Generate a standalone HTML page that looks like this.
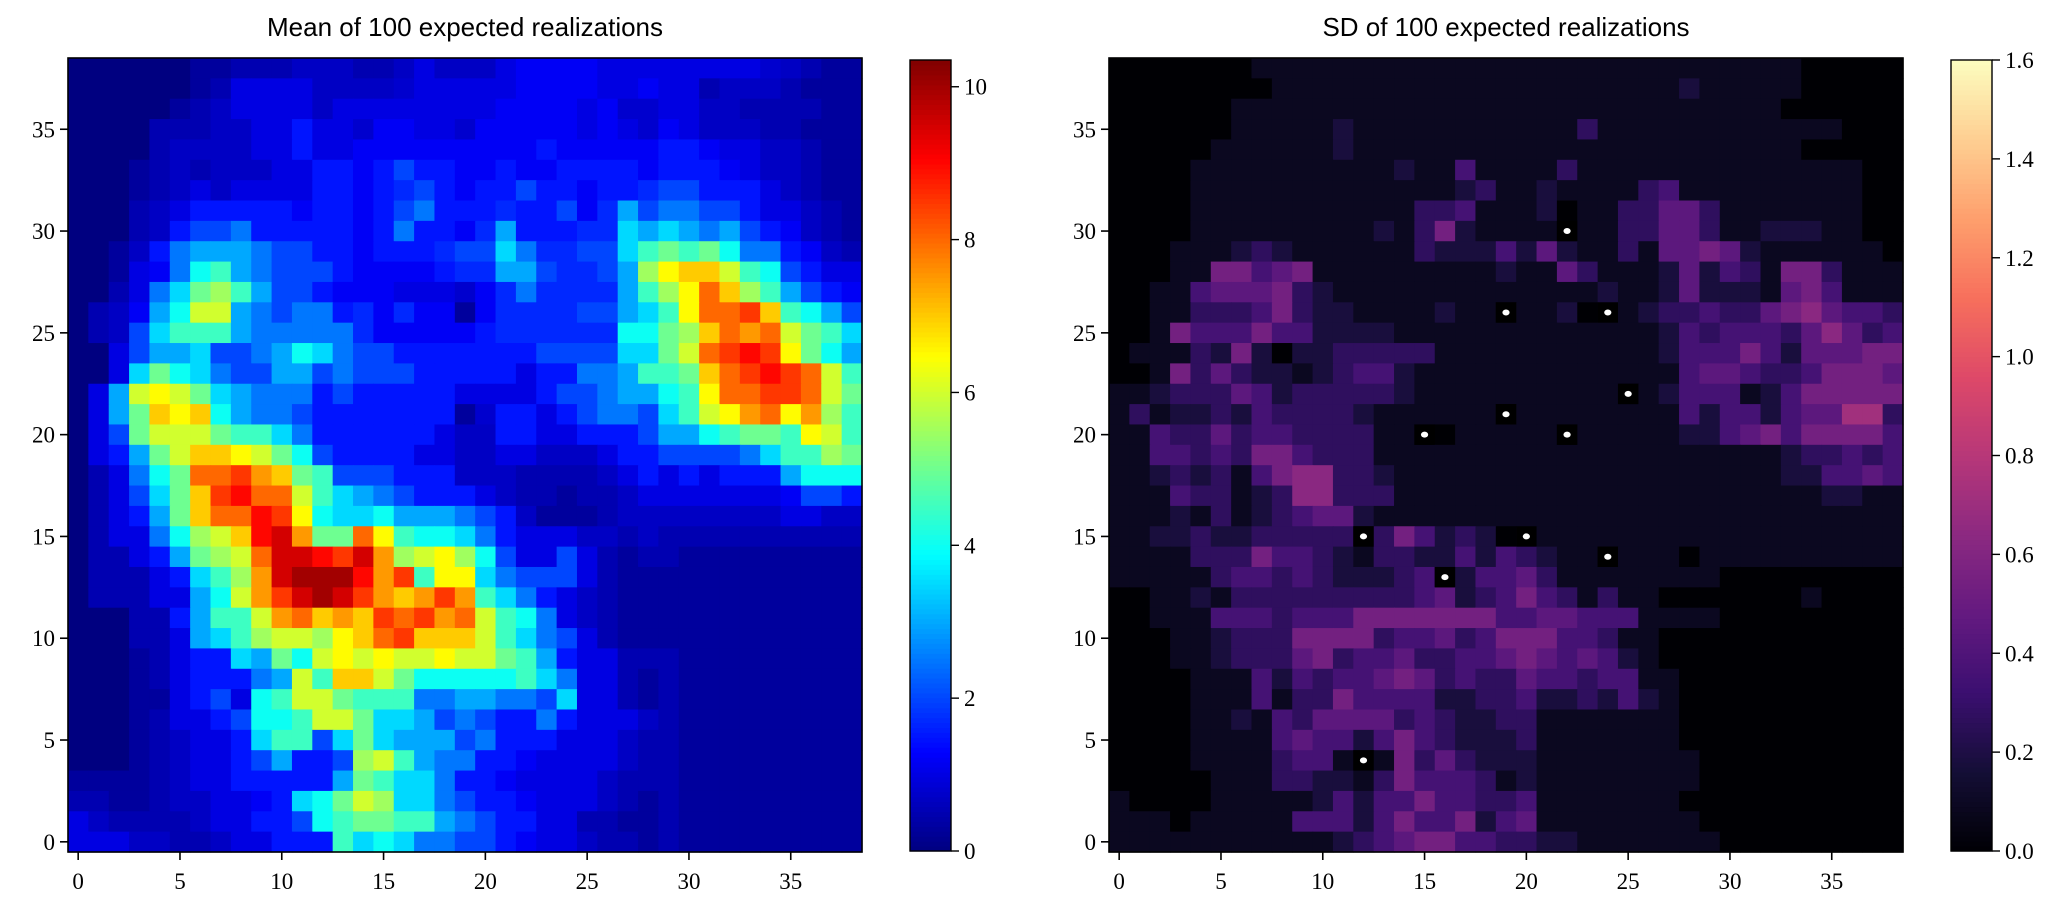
<!DOCTYPE html>
<html><head><meta charset="utf-8"><style>
html,body{margin:0;padding:0;background:#fff;}
svg{display:block;}
text{font-family:"Liberation Serif",serif;fill:#000;}
.ttl{font-family:"Liberation Sans",sans-serif;font-size:26px;}
.tk{font-size:23px;}
</style></head><body>
<svg id="fig" width="2067" height="913" viewBox="0 0 2067 913"></svg>
<script>
// ---- data (rows listed from y=38 at top down to y=0) ----
const gridSize = 39;
const meanRows = [
"0 0 0 0 0 0 .3 .3 .5 .5 .5 .7 .7 .7 .5 .5 .7 1 .7 .7 .7 1 1.2 1.2 1.2 1.2 1 1 1 1 1 1 1 1 .8 .7 .5 .3 .3",
"0 0 0 0 0 0 .3 .5 1 1 1 1 .7 .7 .7 .7 .8 1 1 1 1 1 1.2 1.2 1.2 1.2 1 1 1.2 1 1 .5 .7 .7 .7 .5 .3 .3 .3",
"0 0 0 0 0 .3 .5 .7 1 1 1 1 .7 1 1 1 1 1 1 1 1 1.2 1.2 1.2 1.2 1 1.2 .8 .8 1 1 .7 .7 .5 .5 .5 .5 .3 .3",
"0 0 0 0 .5 .5 .5 .7 .7 1 1 1.5 1 1 .8 1.2 1.2 1 1 .8 1.2 1.2 1.2 1.2 1.2 1 1.2 1 .8 1.2 1 .7 .7 .7 .5 .5 .3 .3 .3",
"0 0 0 0 .5 .7 .7 .7 .7 1 1 1.5 1 1 1.2 1.2 1.2 1.2 1.2 1.2 1.2 1.2 1.2 1.5 1.2 1.2 1.2 1.2 1.2 1.5 1.5 1.2 1 1 .7 .7 .5 .3 .3",
"0 0 0 .3 .5 .7 .5 .7 .7 .7 1 1 1.5 1.5 1.2 1.5 2 1.5 1.5 1.2 1.2 1.5 1.2 1.2 1.5 1.5 1.5 1.5 1.2 1.5 1.5 1.5 1.2 1 .7 .7 .5 .3 .3",
"0 0 0 .3 .5 .7 1 .7 1 1 1 1 1.5 1.5 1.2 1.5 1.7 2 1.5 1.2 1.5 1.5 2 1.5 1.5 1.2 1.5 1.5 1.7 2 2 1.5 1.5 1.5 1 .7 .5 .3 .3",
"0 0 0 .5 .7 1 1.5 1.5 1.5 1.5 1.5 1.2 1.5 1.5 1.2 1.5 2 2.5 1.5 1.5 1.5 1.7 1.5 1.5 2 1.2 1.7 3 2 2.5 2.5 2 2 1.5 1 1 .7 .5 .3",
"0 0 0 .5 .7 1.5 2 2 2.5 1.5 1.5 1.5 1.5 1.5 1.2 1.5 2.5 1.5 1.5 1.2 1.7 3 1.5 1.5 1.5 1.7 1.7 3.5 3 3.5 3 2.5 3 2 1.5 1.2 .7 .5 .3",
"0 0 .3 .7 1.5 2.5 3 3 3 2.5 2 2 1.5 1.5 1.2 1.5 1.5 1.5 1.7 2 2 3.5 2.5 1.7 1.7 2 2 3.5 4.5 5 4.5 5 4 2.5 2.5 1.5 1.2 .7 .5",
"0 0 .3 1 1.2 2.5 4 4.5 3 2.5 2 2 2 1.5 1.2 1.2 1.2 1.2 1.5 1.7 1.7 3 3 2 1.7 1.7 2 3 5.5 6.5 7 7 6 4.5 4 2 1.5 1 1",
"0 0 .5 1 2.5 3.5 5 5.5 4.5 3 2 2 1.5 1.2 1.2 1.2 1 1 1 .8 1.2 1.7 2.5 1.7 1.7 1.7 1.7 3 4.5 5.5 6.5 8 7 5.5 4.5 3 2 1.5 1.2",
"0 .5 .7 1.2 3 4 6 6 3 2.5 2 2.5 2.5 1.5 1.7 1.2 1.7 1.2 1.2 .3 1.2 1.7 1.7 1.7 1.7 2 2 3 3.5 4.5 6.5 8 8 8.5 7 4.5 4 3 2",
"0 .5 .7 2 3.5 4.5 4.5 4.5 3 2.5 2.5 2.5 2.5 2.5 1.7 1.2 1.2 1.2 1.2 1.2 1.5 1.7 1.7 1.7 1.7 1.7 1.7 4 4 5 5.5 7 8 7.5 8 6 5 4.5 3.5",
"0 0 1 2 3 3 3.5 2 2 2.5 3 4 3.5 2.5 2 2 1.5 1.5 1.5 1.5 1.5 1.5 1.5 2 2 2 2 3.5 3.5 5 6 8 8.5 9 8.5 6.5 5 4 3",
"0 0 1 3.5 5 4 3.5 2.5 2 2 3 3 2 2.5 2 2 2 1.5 1.5 1.5 1.5 1.5 1 1.5 1.5 2.5 2.5 3 4.5 4.5 5 7 8 8.5 9 8.5 8 6 4.5",
"0 1 3 6 6.5 6 5 3.5 3 2.5 2.5 2.5 1.5 2 1.5 1.5 1.5 1.5 1.5 1 1 1 1 1.5 2 2 2.5 3 3 4 4.5 6.5 8 8 8.5 8.5 8 6 5",
"0 1 3 5 7 6.5 7 4 3 2.5 2.5 2 1.5 1.5 1.5 1.5 1.5 1.5 1.5 .3 .8 1.5 1.5 1 1.5 2 2.5 2.5 2 3.5 4.5 6 6.5 7.5 8 6.5 7.5 5.5 4.5",
"0 1 2 5 6 6 6 5 4.5 4.5 3.5 2.5 1.5 1.5 1.5 1.5 1.5 1.5 1 .7 .7 1.5 1.5 1 1 1.5 1.5 1.5 2 3 3 4 4.5 5 5 4.5 6.5 6 4.5",
"0 1 1.5 3 5 6 7 7 6.5 6 5 4 2 1.5 1.5 1.5 1.5 1 1 .7 .7 1 1 .7 .7 .7 1 1.5 1.5 2 2 2 2 2.5 3.5 4.5 4.5 5.5 5",
"0 .5 1 2.5 4 5 8 8 8.5 7.5 7 5 4.5 2 2 2 1.5 1.5 1.5 .7 .7 .7 .5 .5 .5 .5 .7 1 1.5 1 1.5 1 1.5 1.5 1.5 3 4 4 4",
"0 .5 1 2 3.5 5 7 8.5 9 8 8 6 4.5 3.5 3 2.5 2 1.5 1.5 1.5 1 .7 .5 .5 .3 .5 .5 .7 1 1 1 1 1 1 1 1.2 2 2 1.5",
"0 .5 1 1.5 3 5 7 8 8 9 8.5 6.5 4 3.5 3.5 4 3 3 3 2.5 2 1.5 .7 .3 .3 .3 .5 .7 .7 .7 .7 .7 .7 .7 .7 1 1 .7 .7",
"0 .5 1 1 2.5 4 5.5 6 7 9 9.5 7.5 5 5 8 6.5 4.5 4 4 3.5 2.5 1.5 1 1 1 .7 .7 .5 .7 .5 .5 .5 .5 .5 .5 .5 .5 .5 .5",
"0 .5 .5 1 1.5 3 5 5.5 6 8 9.5 9.5 9 8.5 9.5 7.5 5.5 6 6.5 5.5 4 2 1 1 2 1 .5 .3 .5 .5 .3 .3 .3 .3 .3 .3 .3 .3 .3",
"0 .5 .5 .5 1 1.5 3.5 4.5 5.5 7.5 9.5 10 10 10 9 7.5 8.5 4.5 6.5 6.5 3.5 2.5 2 2 2 1 .5 .3 .3 .3 .3 .3 .3 .3 .3 .3 .3 .3 .3",
"0 .5 .5 .5 1 1 3 4 6 7.5 8.5 9.5 10 9.5 8.5 7.5 7 7.5 8.5 7.5 4.5 3.5 2.5 1.5 1 .7 .5 .3 .3 .3 .3 .3 .3 .3 .3 .3 .3 .3 .3",
"0 0 0 .5 .5 1.5 3 4.5 4.5 6 7.5 8 7 7.5 7 8.5 8 8.5 7.5 8 6 4.5 4 2.5 1 .7 .5 .3 .3 .3 .3 .3 .3 .3 .3 .3 .3 .3 .3",
"0 0 0 .5 .5 1 3 3.5 4.5 5.5 6 6 5.5 6.5 7 8 8.5 7 7 7 6 4.5 3.5 2.5 2 1 .5 .3 .3 .3 .3 .3 .3 .3 .3 .3 .3 .3 .3",
"0 0 0 .3 .5 1 1.5 1.5 3.5 3 5 4 6 6.5 6 6.5 6 6 6.5 6 6 5 4.5 3 1.5 1 1 .5 .5 .5 .3 .3 .3 .3 .3 .3 .3 .3 .3",
"0 0 0 .3 .5 1 1.5 1.5 1.5 2.5 3 6 4.5 7 7 6 5 4 4 4 4 4 4.5 3.5 2.5 1 1 .5 .3 .5 .3 .3 .3 .3 .3 .3 .3 .3 .3",
"0 0 0 .3 .3 1 1.5 2 1 4 4.5 6 6 5 4.5 4.5 4.5 2.5 2.5 3 3 2.5 2.5 2 3.5 1 1 .5 .3 .5 .3 .3 .3 .3 .3 .3 .3 .3 .3",
"0 0 0 .3 .5 1 1 1.5 2 4 4 4.5 6 6 5 3.5 3.5 3 2 2.5 2 1.5 1.5 2.5 1.5 1 1 1 .7 .5 .3 .3 .3 .3 .3 .3 .3 .3 .3",
"0 0 0 .3 .5 .7 1 1 1.5 3.5 4.5 4.5 2 3.5 5 3.5 3 3 3 2 2.5 1.5 1.5 1.5 1 1 1 .7 .5 .5 .3 .3 .3 .3 .3 .3 .3 .3 .3",
"0 0 0 .3 .5 .7 1 1 1.5 2 3 1.5 1.5 2 5.5 6 4.5 3 2.5 2.5 1.5 1.5 1.2 1 1 1 1 .7 .5 .5 .3 .3 .3 .3 .3 .3 .3 .3 .3",
".3 .3 .3 .3 .5 .7 1 1 1.5 1.5 1.5 1.5 1.5 3 5 4.5 3.5 3.5 2.5 1.5 1.5 1.2 1 1 1 1 .7 .5 .5 .5 .3 .3 .3 .3 .3 .3 .3 .3 .3",
".5 .5 .3 .3 .5 .7 .7 1 1 1.2 1.5 3.5 4 5 6 5.5 3.5 3.5 2.5 2 1.5 1.5 1.2 1 1 1 .7 .5 .3 .5 .3 .3 .3 .3 .3 .3 .3 .3 .3",
"1 .7 .5 .5 .5 .5 .7 1 1 1.5 1.5 2 4 4.5 5 5 4.5 4.5 3 2.5 2 1.5 1.5 1 1 .5 .5 .3 .3 .5 .3 .3 .3 .3 .3 .3 .3 .3 .3",
"1 1 1 .7 .7 .5 .5 .7 1 1 1.5 1.5 1.5 4.5 3.5 4 3.5 2.5 2.5 2 2 1.5 1.2 1 1 .7 .5 .5 .3 .5 .3 .3 .3 .3 .3 .3 .3 .3 .3"
];
// SD levels (x0.09), rows from y=38 down to y=0
const sdRows = [
"000000011111111111111111111111111100000",
"000000001111111111111111111121111100000",
"000000111111111111111111111111111000000",
"000000111112111111111113111111111111000",
"000001111112111111111111111111111100000",
"000011111111112114111131111111111111100",
"000011111111111112311211113411111111100",
"000011111111111334111201133553111111100",
"000011111111121362111101133553112221100",
"000111232111111322242521131556521111110",
"000116645611111111121153111252431663111",
"001145556321111111111111211252221564111",
"001133346322111121101120112334335675443",
"001644464422221111111111111243444357534",
"011132620223333311111111111244464255566",
"001635322123442111111111111145543346665",
"112333542333332111111111101244412466666",
"131223243333211111101111111142442455883",
"114335344333311001111101111122456466664",
"114434366433311111111111111111111233434",
"112323146773321111111111111111111224454",
"111433123773331111111111111111111112211",
"111213123455211111111111111111111111111",
"112232233333036423201111111111111111111",
"111133364432133224243211011101111111111",
"111113443432223402445311111111000000000",
"001121333333333452346431311000000010000",
"001114443444666666644554441111000000000",
"000112333666634453466644311000000000000",
"000112333563445334456545421000000000000",
"000011142434456534335443441100000000000",
"000011141336444422334223242100000000000",
"000011214355553432233111111100000000000",
"000011114544246432223111111100000000000",
"000011113441016353222111111110000000000",
"000001113322136444312111111110000000000",
"100001111124244644334111111100000000000",
"111011111444246446245111111110000000000",
"111111111112345664433221111111000000000"
];
const markerX = [22,19,24,25,19,15,22,12,20,24,16,12];
const markerY = [30,26,26,22,21,20,20,15,15,14,13,4];
const xTickLabels = ["0","5","10","15","20","25","30","35"];
const yTickLabels = ["0","5","10","15","20","25","30","35"];
const meanCbTicks = ["0","2","4","6","8","10"];
const sdCbTicks = ["0.0","0.2","0.4","0.6","0.8","1.0","1.2","1.4","1.6"];
const meanMax = 10.35, sdMax = 1.6, sdStep = 0.09;

const NS = "http://www.w3.org/2000/svg";
const svg = document.getElementById('fig');
function mk(tag, attrs, parent){const e=document.createElementNS(NS,tag);for(const k in attrs)e.setAttribute(k,attrs[k]);(parent||svg).appendChild(e);return e;}

function jet(t){t=Math.max(0,Math.min(1,t));
 const f=(x)=>Math.max(0,Math.min(1,1.5-Math.abs(4*t-x)));
 return `rgb(${Math.round(255*f(3))},${Math.round(255*f(2))},${Math.round(255*f(1))})`;}
const magStops=[[0,0,0,4],[.1,20,14,54],[.2,59,15,112],[.3,100,26,128],[.4,140,41,129],[.5,183,55,121],[.6,222,73,104],[.7,247,112,92],[.8,254,159,109],[.9,254,207,146],[1,252,253,191]];
function magma(t){t=Math.max(0,Math.min(1,t));for(let i=1;i<magStops.length;i++){if(t<=magStops[i][0]){const a=magStops[i-1],b=magStops[i];const u=(t-a[0])/(b[0]-a[0]);return `rgb(${Math.round(a[1]+u*(b[1]-a[1]))},${Math.round(a[2]+u*(b[2]-a[2]))},${Math.round(a[3]+u*(b[3]-a[3]))})`;}}return 'rgb(252,253,191)';}

const cell = 794/gridSize, top0 = 58, H = 794;
function panel(x0, rows, parse, cmap, vmax, title, cbX, cbTicks, cbMax, nameP){
  const g = mk('g',{});
  
  
  const xs=(v)=>x0+(v+0.5)*cell, ys=(v)=>top0+(gridSize-0.5-v)*cell;
  rows.forEach((row,ri)=>{
    const vals=parse(row); const yv=gridSize-1-ri;
    for(let c=0;c<gridSize;c++){
      const v=vals[c]!==undefined?vals[c]:0;
      const r=mk('rect',{x:(xs(c)-cell/2).toFixed(2),y:(ys(yv)-cell/2).toFixed(2),width:(cell+0.6).toFixed(2),height:(cell+0.6).toFixed(2),fill:cmap(v/vmax)},g);
      
      
    }
  });
  const fr=mk('rect',{x:x0,y:top0,width:794,height:H,fill:'none',stroke:'#000','stroke-width':1.6});
  
  
  xTickLabels.forEach(l=>{const v=+l;
    mk('line',{x1:xs(v),x2:xs(v),y1:top0+H,y2:top0+H+8,stroke:'#000','stroke-width':1.6});
    const t=mk('text',{x:xs(v),y:top0+H+37,'text-anchor':'middle',class:'tk'});t.textContent=l;
    
    });
  yTickLabels.forEach(l=>{const v=+l;
    mk('line',{x1:x0-8,x2:x0,y1:ys(v),y2:ys(v),stroke:'#000','stroke-width':1.6});
    const t=mk('text',{x:x0-13,y:ys(v)+8,'text-anchor':'end',class:'tk'});t.textContent=l;
    
    });
  const tt=mk('text',{x:x0+397,y:36,'text-anchor':'middle',class:'ttl'});tt.textContent=title;
  
  
  // colorbar
  const cbTop=60, cbBot=851, cbW=41;
  const cg=mk('g',{});
  
  
  const n=160;
  for(let i=0;i<n;i++){const y=cbBot-(i+1)*(cbBot-cbTop)/n;
    mk('rect',{x:cbX,y:y.toFixed(2),width:cbW,height:((cbBot-cbTop)/n+0.6).toFixed(2),fill:cmap((i+0.5)/n)},cg);}
  mk('rect',{x:cbX,y:cbTop,width:cbW,height:cbBot-cbTop,fill:'none',stroke:'#000','stroke-width':1.4},cg);
  cbTicks.forEach(l=>{const v=parseFloat(l);const y=cbBot-(v/cbMax)*(cbBot-cbTop);
    mk('line',{x1:cbX+cbW,x2:cbX+cbW+8,y1:y,y2:y,stroke:'#000','stroke-width':1.4},cg);
    const t=mk('text',{x:cbX+cbW+13,y:y+8,class:'tk'},cg);t.textContent=l;
    
    });
  return {xs,ys};
}
const numParse=(s)=>s.trim().split(/\s+/).map(Number);
const sdParse=(s)=>s.split('').map(ch=>(+ch)*sdStep);
panel(68, meanRows, numParse, jet, meanMax, "Mean of 100 expected realizations", 910, meanCbTicks, meanMax, 'mean');
const sd = panel(1109, sdRows, sdParse, magma, sdMax, "SD of 100 expected realizations", 1951, sdCbTicks, sdMax, 'sd');
// observation markers: black cell + white dot
markerX.forEach((mx,i)=>{const my=markerY[i];
  const r=mk('rect',{x:sd.xs(mx)-cell/2,y:sd.ys(my)-cell/2,width:cell,height:cell,fill:'#000'});
  
  
  const d=mk('ellipse',{cx:sd.xs(mx),cy:sd.ys(my),rx:3.6,ry:3,fill:'#fff'});
  
  
});
</script>
</body></html>
